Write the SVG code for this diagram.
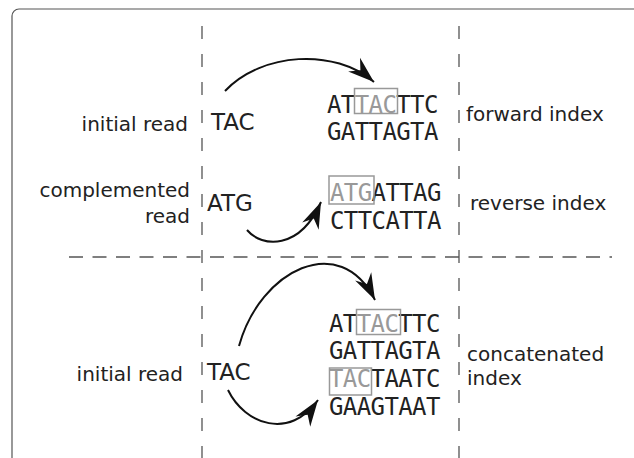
<svg xmlns="http://www.w3.org/2000/svg" width="634" height="458" viewBox="0 0 634 458">
<defs>
<style>
.lbl{font-family:"DejaVu Sans","Liberation Sans",sans-serif;font-size:20px;fill:#222}
.rd{font-family:"DejaVu Sans","Liberation Sans",sans-serif;font-size:23px;fill:#222}
.seq{font-family:"DejaVu Sans Mono","Liberation Mono",monospace;font-size:24px;letter-spacing:-0.6px;fill:#222}
.hl{fill:#999}
.box{fill:none;stroke:#999;stroke-width:1.5}
.dash{stroke:#555;stroke-width:1.3;fill:none}
.arr{fill:none;stroke:#111;stroke-width:2;marker-end:url(#ah)}
</style>
<marker id="ah" markerUnits="userSpaceOnUse" markerWidth="30" markerHeight="30" viewBox="-23 -10 25 20" refX="0" refY="0" orient="auto">
<path d="M0,0 L-22,-7.5 L-15,0 L-22,7.5 Z" fill="#111"/>
</marker>
</defs>
<rect x="12" y="9" width="640" height="470" rx="7" fill="#fff" stroke="#555" stroke-width="1.2"/>
<g id="grid">
<line class="dash" x1="202" y1="26" x2="202" y2="458" stroke-dasharray="13 15"/>
<line class="dash" x1="459" y1="26" x2="459" y2="458" stroke-dasharray="13 15"/>
<line class="dash" x1="69" y1="257" x2="612" y2="257" stroke-dasharray="14 9.5"/>
</g>
<g id="row-forward">
<text class="lbl" x="188" y="131" text-anchor="end">initial read</text>
<text class="rd" x="211" y="130">TAC</text>
<text class="seq" x="327" y="112.5">AT<tspan class="hl">TAC</tspan>TTC</text>
<rect class="box" x="354.5" y="88.5" width="43" height="25"/>
<text class="seq" x="327" y="140">GATTAGTA</text>
<text class="lbl" x="466" y="121">forward index</text>
</g>
<g id="row-reverse">
<text class="lbl" x="190" y="197" text-anchor="end">complemented</text>
<text class="lbl" x="190" y="223" text-anchor="end">read</text>
<text class="rd" x="207" y="211">ATG</text>
<text class="seq" x="330" y="200.5"><tspan class="hl">ATG</tspan>ATTAG</text>
<rect class="box" x="329" y="176" width="45" height="28"/>
<text class="seq" x="330" y="229">CTTCATTA</text>
<text class="lbl" x="470" y="210">reverse index</text>
</g>
<g id="row-concat">
<text class="lbl" x="183" y="381" text-anchor="end">initial read</text>
<text class="rd" x="207" y="380">TAC</text>
<text class="seq" x="329" y="331.5">AT<tspan class="hl">TAC</tspan>TTC</text>
<rect class="box" x="356.5" y="309.5" width="44" height="25"/>
<text class="seq" x="329" y="359">GATTAGTA</text>
<text class="seq" x="329" y="387"><tspan class="hl">TAC</tspan>TAATC</text>
<rect class="box" x="329.5" y="368" width="42" height="27"/>
<text class="seq" x="329" y="415">GAAGTAAT</text>
<text class="lbl" x="467" y="360.5">concatenated</text>
<text class="lbl" x="467" y="385">index</text>
</g>
<g id="connectors">
<path class="arr" d="M225,91 C262,52 335,48 374,82"/>
<path class="arr" d="M247,230 C262,248 300,250 321,202"/>
<path class="arr" d="M239,346 C260,270 340,230 375,300"/>
<path class="arr" d="M228,390 C245,425 290,440 318,400"/>
</g>
</svg>
